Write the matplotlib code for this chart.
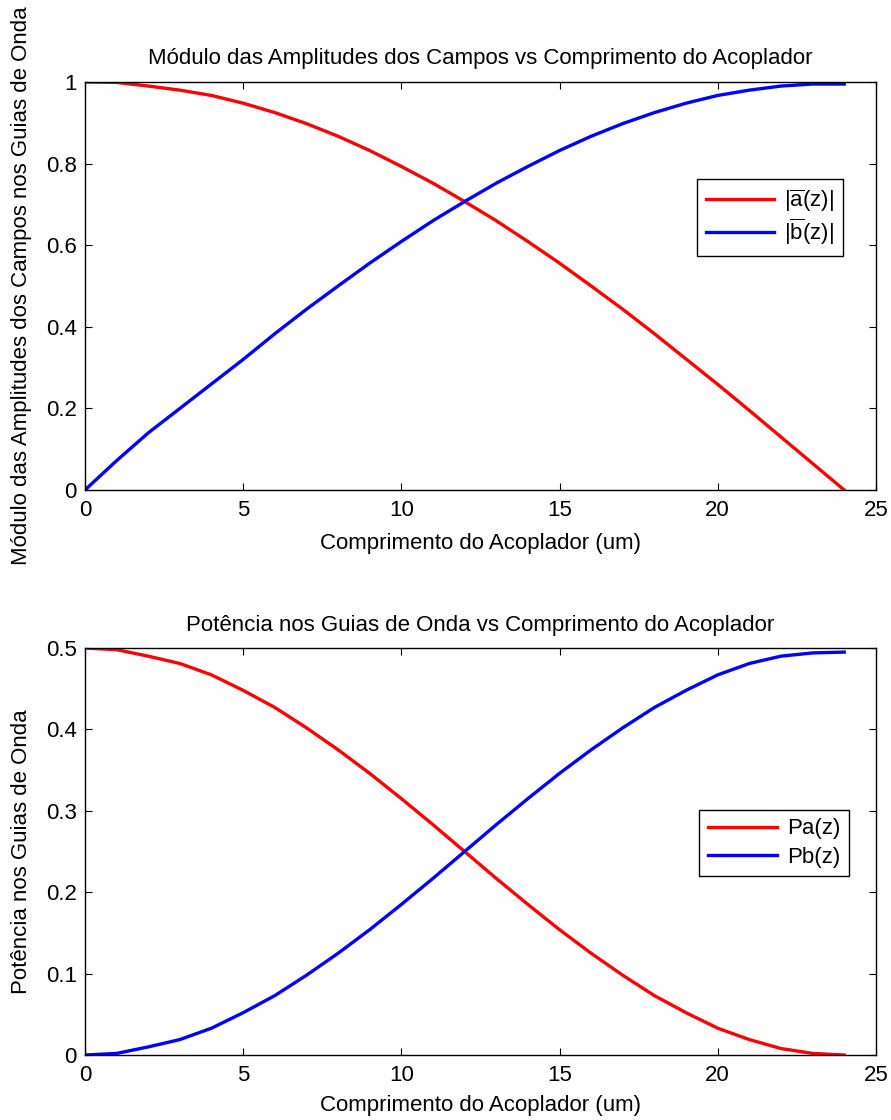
import matplotlib
matplotlib.use("Agg")
import matplotlib.pyplot as plt
from matplotlib.lines import Line2D

plt.rcParams['font.family'] = ['Liberation Sans', 'DejaVu Sans']
plt.rcParams['mathtext.fontset'] = 'custom'
plt.rcParams['mathtext.rm'] = 'Liberation Sans'
plt.rcParams['mathtext.it'] = 'Liberation Sans'

# coupler length (um)
z = [0, 1, 2, 3, 4, 5, 6, 7, 8, 9, 10, 11, 12, 13, 14, 15, 16, 17, 18, 19, 20, 21, 22, 23, 24]

# field amplitude magnitudes
amp_a = [1.0, 0.999, 0.99, 0.98, 0.967, 0.948, 0.925, 0.898, 0.867, 0.832, 0.793, 0.752, 0.707,
         0.66, 0.609, 0.556, 0.5, 0.443, 0.383, 0.321, 0.259, 0.195, 0.13, 0.065, 0.0]
amp_b = [0.0, 0.072, 0.14, 0.2, 0.26, 0.32, 0.383, 0.443, 0.5, 0.556, 0.609, 0.66, 0.707,
         0.752, 0.793, 0.832, 0.867, 0.898, 0.925, 0.948, 0.967, 0.98, 0.99, 0.995, 0.995]

# guided power
pow_a = [0.5, 0.498, 0.49, 0.481, 0.467, 0.448, 0.427, 0.402, 0.375, 0.346, 0.315, 0.283, 0.25,
         0.217, 0.185, 0.154, 0.125, 0.098, 0.073, 0.052, 0.033, 0.019, 0.008, 0.002, 0.0]
pow_b = [0.0, 0.002, 0.01, 0.019, 0.033, 0.052, 0.073, 0.098, 0.125, 0.154, 0.185, 0.217, 0.25,
         0.283, 0.315, 0.346, 0.375, 0.402, 0.427, 0.448, 0.467, 0.481, 0.49, 0.494, 0.495]

x_ticks = [0, 5, 10, 15, 20, 25]
amp_ticks = [0, 0.2, 0.4, 0.6, 0.8, 1]
pow_ticks = [0, 0.1, 0.2, 0.3, 0.4, 0.5]

FS = 16

fig = plt.figure(figsize=(8.91, 11.2), dpi=100)
ax1 = fig.add_axes([0.0954, 0.5625, 0.8876, 0.3643])
ax2 = fig.add_axes([0.0954, 0.0580, 0.8876, 0.3634])


def style(ax, yticks, ylim):
    ax.set_xlim(0, 25)
    ax.set_ylim(*ylim)
    ax.set_xticks(x_ticks)
    ax.set_xticklabels([str(t) for t in x_ticks])
    ax.set_yticks(yticks)
    ax.set_yticklabels(['%g' % t for t in yticks])
    ax.tick_params(direction='in', length=5, width=0.8, top=True, right=True,
                   labelsize=FS)
    ax.tick_params(axis='y', pad=6)
    ax.tick_params(axis='x', pad=7)
    for s in ax.spines.values():
        s.set_linewidth(1.0)


def legend_box(ax, labels, anchor, spacing):
    leg = ax.legend(labels=labels, handles=[Line2D([], [], color='red', lw=2.4),
                                            Line2D([], [], color='blue', lw=2.4)],
                    loc='upper left', bbox_to_anchor=anchor, fontsize=FS,
                    fancybox=False, framealpha=1, edgecolor='black',
                    handlelength=3.1, borderpad=0.38, labelspacing=spacing,
                    handletextpad=0.45, borderaxespad=0)
    leg.get_frame().set_linewidth(1.0)
    return leg


# upper panel: field amplitudes
ax1.plot(z, amp_a, color='red', lw=2.4)
ax1.plot(z, amp_b, color='blue', lw=2.4)
style(ax1, amp_ticks, (0, 1))
ax1.set_title('Módulo das Amplitudes dos Campos vs Comprimento do Acoplador', fontsize=FS, pad=13)
ax1.set_xlabel('Comprimento do Acoplador (um)', fontsize=FS, labelpad=9)
ax1.set_ylabel('Módulo das Amplitudes dos Campos nos Guias de Onda', fontsize=FS, labelpad=10)
legend_box(ax1, [r'|$\overline{\mathrm{a}}$(z)|', r'|$\overline{\mathrm{b}}$(z)|'], (0.774, 0.762), 0.12)

# lower panel: power
ax2.plot(z, pow_a, color='red', lw=2.4)
ax2.plot(z, pow_b, color='blue', lw=2.4)
style(ax2, pow_ticks, (0, 0.5))
ax2.set_title('Potência nos Guias de Onda vs Comprimento do Acoplador', fontsize=FS, pad=12)
ax2.set_xlabel('Comprimento do Acoplador (um)', fontsize=FS, labelpad=7)
ax2.set_ylabel('Potência nos Guias de Onda', fontsize=FS, labelpad=10)
legend_box(ax2, ['Pa(z)', 'Pb(z)'], (0.777, 0.602), 0.32)

fig.savefig('out.png', dpi=100)
